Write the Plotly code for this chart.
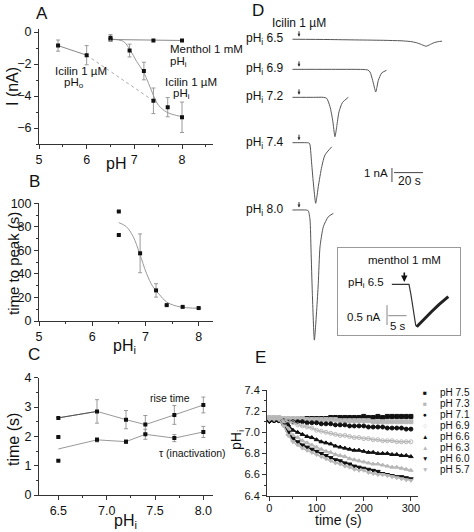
import plotly.graph_objects as go

W, H = 474, 532
def X(px): return px / W
def Y(py): return 1 - py / H

FONT = "Liberation Sans, Arial, sans-serif"
BLACK = "#111111"
GRAY = "#999999"
LIGHT = "#b8b8b8"
TRACE = "#555555"

# ---------------- Panel A data ----------------
A_pHo_x = [5.4, 6.0, 7.4]
A_pHo_y = [-0.85, -1.45, -4.3]
A_pHo_err = [0.35, 0.6, 0.8]
A_pHi_x = [6.5, 6.9, 7.2, 7.4, 7.7, 8.0]
A_pHi_y = [-0.36, -1.16, -2.44, -4.3, -4.7, -5.33]
A_pHi_err = [0.2, 0.4, 0.55, 0.8, 0.6, 0.95]
A_fit_x = [6.49, 6.77, 6.91, 7.05, 7.19, 7.30, 7.39, 7.51, 7.68, 7.89, 8.0]
A_fit_y = [-0.44, -0.59, -1.12, -1.85, -2.48, -3.22, -3.89, -4.59, -5.01, -5.22, -5.28]
A_men_x = [6.5, 7.4, 8.0]
A_men_y = [-0.47, -0.53, -0.53]

# ---------------- Panel B data ----------------
B_x = [6.5, 6.5, 6.9, 7.2, 7.4, 7.7, 8.0]
B_y = [93, 73, 57.5, 26, 13.5, 12, 11]
B_err = [0, 0, 16.5, 5.7, 0, 0, 0]
B_fit_x = [6.5, 6.64, 6.77, 6.89, 7.02, 7.14, 7.27, 7.39, 7.58, 7.77, 8.05]
B_fit_y = [83.6, 80.2, 71.7, 57.5, 40.5, 29.2, 22.1, 16.4, 12.7, 11.3, 10.8]

# ---------------- Panel C data ----------------
C_x = [6.5, 6.9, 7.2, 7.4, 7.7, 8.0]
C_rise = [2.63, 2.85, 2.57, 2.4, 2.73, 3.07]
C_rise_err = [0, 0.4, 0.31, 0.31, 0.32, 0.27]
C_tau_pts_x = [6.5, 6.5, 6.9, 7.2, 7.4, 7.7, 8.0]
C_tau_pts_y = [1.98, 1.17, 1.88, 1.82, 2.07, 1.94, 2.15]
C_tau_err = [0, 0, 0.07, 0.06, 0.17, 0.12, 0.19]
C_tau_line = [1.57, 1.88, 1.82, 2.07, 1.94, 2.15]

# ---------------- Panel D data (time s from icilin application, current nA) ----------------
D_labels = ["6.5", "6.9", "7.2", "7.4", "8.0"]
D_t = [
    [-4.5, 20, 40, 60, 72, 78, 82, 85, 87.6, 90, 93, 96, 98.6],
    [-4.5, 20, 44, 47.5, 49, 50.8, 52.2, 52.9, 53.7, 54.7, 57, 60.3],
    [-4.5, 10, 17, 19.1, 21.4, 23.2, 24.8, 26, 27.6, 29.9, 34],
    [-4.5, 5, 7.0, 7.6, 8.7, 9.9, 11.5, 12.3, 13.3, 15.7, 17.9, 22.6],
    [-4.5, 5, 6.4, 7.6, 8.3, 9.2, 10.6, 12.2, 13.3, 14.5, 16.8, 20.2, 23.7],
]
D_I = [
    [0, -0.02, -0.05, -0.08, -0.12, -0.18, -0.28, -0.4, -0.5, -0.4, -0.25, -0.17, -0.14],
    [0, 0, -0.01, -0.05, -0.19, -0.79, -1.38, -1.62, -1.3, -0.79, -0.26, -0.07],
    [0, 0, 0, -0.07, -0.67, -1.62, -2.81, -2.1, -1.03, -0.38, 0],
    [0, 0, -0.02, -0.16, -1.45, -2.88, -4.33, -3.9, -3.14, -1.71, -0.88, -0.29],
    [0, 0, -0.05, -0.71, -2.86, -5.95, -9.29, -7.14, -5.24, -2.62, -1.19, -0.48, -0.24],
]
# inset: menthol 1 mM at pHi 6.5
IN_t = [-3.4, 1.28, 1.83, 2.45, 3.1, 3.38, 5.0, 7.47, 9.5, 12.0]
IN_I = [0, 0, -0.27, -0.68, -1.02, -1.06, -0.9, -0.68, -0.5, -0.31]

# layout constants for panel D (stacking offsets in nA, scale bars)
D_OFFSETS = [-0.66, -2.81, -4.81, -8.05, -12.86]
SB_T = 64.1
SB_Y = -9.857
SB_NA = 1.0
SB_S = 20.0
IN_SB_T = -4.71
IN_SB_Y = -0.52
IN_SB_NA = 0.5
IN_SB_S = 5.0

# ---------------- Panel E data ----------------
E_t = list(range(0, 301, 10))
E_labels = ["pH 7.5", "pH 7.3", "pH 7.1", "pH 6.9", "pH 6.6", "pH 6.3", "pH 6.0", "pH 5.7"]
E_vals = [
    [7.12, 7.12, 7.13, 7.12, 7.12, 7.12, 7.12, 7.13, 7.13, 7.13, 7.13, 7.13, 7.13, 7.14, 7.14, 7.14,
     7.14, 7.14, 7.14, 7.14, 7.15, 7.14, 7.14, 7.15, 7.14, 7.15, 7.15, 7.15, 7.15, 7.15, 7.15],
    [7.14, 7.14, 7.14, 7.13, 7.13, 7.13, 7.13, 7.13, 7.12, 7.12, 7.12, 7.12, 7.12, 7.12, 7.12, 7.11,
     7.11, 7.11, 7.11, 7.11, 7.11, 7.11, 7.10, 7.10, 7.10, 7.10, 7.10, 7.10, 7.10, 7.10, 7.10],
    [7.11, 7.11, 7.11, 7.11, 7.10, 7.10, 7.10, 7.10, 7.09, 7.09, 7.09, 7.08, 7.08, 7.08, 7.07, 7.07,
     7.07, 7.06, 7.06, 7.06, 7.06, 7.05, 7.05, 7.05, 7.05, 7.04, 7.04, 7.04, 7.04, 7.03, 7.03],
    [7.13, 7.13, 7.13, 7.12, 7.10, 7.09, 7.07, 7.06, 7.05, 7.04, 7.02, 7.01, 7.00, 6.99, 6.98, 6.97,
     6.97, 6.96, 6.95, 6.95, 6.94, 6.94, 6.93, 6.93, 6.92, 6.92, 6.92, 6.91, 6.91, 6.91, 6.91],
    [7.12, 7.12, 7.12, 7.10, 7.07, 7.02, 7.00, 6.98, 6.96, 6.95, 6.93, 6.91, 6.90, 6.89, 6.87, 6.86,
     6.85, 6.84, 6.83, 6.83, 6.82, 6.81, 6.81, 6.80, 6.80, 6.80, 6.79, 6.79, 6.78, 6.78, 6.77],
    [7.14, 7.14, 7.13, 7.10, 7.03, 6.97, 6.95, 6.92, 6.90, 6.88, 6.86, 6.84, 6.82, 6.81, 6.79, 6.78,
     6.77, 6.75, 6.74, 6.73, 6.72, 6.71, 6.70, 6.70, 6.69, 6.68, 6.67, 6.67, 6.66, 6.65, 6.64],
    [7.10, 7.11, 7.11, 7.07, 7.00, 6.94, 6.91, 6.88, 6.86, 6.84, 6.82, 6.80, 6.78, 6.76, 6.74, 6.73,
     6.71, 6.70, 6.68, 6.67, 6.66, 6.65, 6.64, 6.63, 6.61, 6.60, 6.59, 6.58, 6.58, 6.57, 6.56],
    [7.12, 7.12, 7.12, 7.06, 6.97, 6.91, 6.88, 6.85, 6.83, 6.81, 6.79, 6.77, 6.75, 6.73, 6.71, 6.70,
     6.68, 6.67, 6.65, 6.64, 6.64, 6.62, 6.61, 6.60, 6.60, 6.59, 6.58, 6.57, 6.56, 6.55, 6.545],
]
E_styles = [
    ("square", BLACK, "■"), ("square", LIGHT, "■"), ("circle", BLACK, "●"), ("circle-open", LIGHT, "○"),
    ("triangle-up", BLACK, "▲"), ("triangle-up", LIGHT, "▲"), ("triangle-down", BLACK, "▼"),
    ("triangle-down", LIGHT, "▼"),
]

fig = go.Figure()

def err(arr, color=GRAY):
    return dict(type="data", array=arr, visible=True, color=color, thickness=1, width=2)

mk = dict(symbol="square", size=4, color=BLACK)

# ---- A ----
fig.add_trace(go.Scatter(x=A_pHo_x[:2], y=A_pHo_y[:2], mode="lines", line=dict(color="#888", width=1),
                         xaxis="x", yaxis="y", showlegend=False))
fig.add_trace(go.Scatter(x=A_pHo_x[1:], y=A_pHo_y[1:], mode="lines", line=dict(color="#aaa", width=1, dash="dot"),
                         xaxis="x", yaxis="y", showlegend=False))
fig.add_trace(go.Scatter(x=A_fit_x, y=A_fit_y, mode="lines", line=dict(color=GRAY, width=1, shape="spline"),
                         xaxis="x", yaxis="y", showlegend=False))
fig.add_trace(go.Scatter(x=A_men_x, y=A_men_y, mode="lines+markers", line=dict(color="#888", width=1),
                         marker=mk, xaxis="x", yaxis="y", showlegend=False))
fig.add_trace(go.Scatter(x=A_pHo_x[:2], y=A_pHo_y[:2], mode="markers", marker=mk,
                         error_y=err(A_pHo_err[:2]), xaxis="x", yaxis="y", showlegend=False))
fig.add_trace(go.Scatter(x=A_pHi_x, y=A_pHi_y, mode="markers", marker=mk,
                         error_y=err(A_pHi_err), xaxis="x", yaxis="y", showlegend=False))

# ---- B ----
fig.add_trace(go.Scatter(x=B_fit_x, y=B_fit_y, mode="lines", line=dict(color=GRAY, width=1, shape="spline"),
                         xaxis="x2", yaxis="y2", showlegend=False))
fig.add_trace(go.Scatter(x=B_x, y=B_y, mode="markers", marker=mk, error_y=err(B_err),
                         xaxis="x2", yaxis="y2", showlegend=False))

# ---- C ----
fig.add_trace(go.Scatter(x=C_x, y=C_rise, mode="lines", line=dict(color=GRAY, width=1),
                         xaxis="x3", yaxis="y3", showlegend=False))
fig.add_trace(go.Scatter(x=C_x[:2], y=C_rise[:2], mode="lines", line=dict(color="#555", width=1),
                         xaxis="x3", yaxis="y3", showlegend=False))
fig.add_trace(go.Scatter(x=C_x, y=C_tau_line, mode="lines", line=dict(color=GRAY, width=1),
                         xaxis="x3", yaxis="y3", showlegend=False))
fig.add_trace(go.Scatter(x=C_x, y=C_rise, mode="markers", marker=mk, error_y=err(C_rise_err),
                         xaxis="x3", yaxis="y3", showlegend=False))
fig.add_trace(go.Scatter(x=C_tau_pts_x, y=C_tau_pts_y, mode="markers", marker=mk, error_y=err(C_tau_err),
                         xaxis="x3", yaxis="y3", showlegend=False))

# ---- D ----
for t, cur, off in zip(D_t, D_I, D_OFFSETS):
    fig.add_trace(go.Scatter(x=t, y=[off + c for c in cur], mode="lines",
                             line=dict(color=TRACE, width=1, shape="spline", smoothing=0.6),
                             xaxis="x4", yaxis="y4", showlegend=False))
fig.add_trace(go.Scatter(x=[SB_T, SB_T], y=[SB_Y, SB_Y - SB_NA], mode="lines", line=dict(color="#444", width=1),
                         xaxis="x4", yaxis="y4", showlegend=False))
fig.add_trace(go.Scatter(x=[SB_T + 1.4, SB_T + 1.4 + SB_S], y=[SB_Y - 0.33, SB_Y - 0.33], mode="lines",
                         line=dict(color="#444", width=1), xaxis="x4", yaxis="y4", showlegend=False))
# inset
fig.add_trace(go.Scatter(x=IN_t[:6], y=IN_I[:6], mode="lines", line=dict(color="#333", width=1.2),
                         xaxis="x5", yaxis="y5", showlegend=False))
fig.add_trace(go.Scatter(x=IN_t[5:], y=IN_I[5:], mode="lines", line=dict(color="#222", width=3),
                         xaxis="x5", yaxis="y5", showlegend=False))
fig.add_trace(go.Scatter(x=[IN_SB_T, IN_SB_T], y=[IN_SB_Y, IN_SB_Y - IN_SB_NA], mode="lines",
                         line=dict(color="#888", width=1), xaxis="x5", yaxis="y5", showlegend=False))
fig.add_trace(go.Scatter(x=[IN_SB_T + 0.35, IN_SB_T + 0.35 + IN_SB_S], y=[-0.785, -0.785], mode="lines",
                         line=dict(color="#888", width=1), xaxis="x5", yaxis="y5", showlegend=False))

# ---- E ----
for vals, (sym, col, _), lab in zip(E_vals, E_styles, E_labels):
    fig.add_trace(go.Scatter(x=E_t, y=vals, mode="lines+markers", name=lab,
                             line=dict(color=col, width=1.5),
                             marker=dict(symbol=sym, size=4, color=col, line=dict(color=col, width=1)),
                             xaxis="x6", yaxis="y6", showlegend=False))

def axis(dom, rng, dtick, mdtick, anchor, size=12.5, fmt=None, tick0=None, standoff=None):
    d = dict(domain=dom, range=rng, dtick=dtick, anchor=anchor, showgrid=False, zeroline=False,
             automargin=False,
             showline=True, linecolor="#333", linewidth=1, ticks="outside", ticklen=4, tickcolor="#333",
             tickfont=dict(size=size, color=BLACK, family=FONT),
             minor=dict(ticks="outside", ticklen=2, dtick=mdtick, tickcolor="#333", showgrid=False))
    if fmt:
        d["tickformat"] = fmt
    if tick0 is not None:
        d["tick0"] = tick0
    if standoff is not None:
        d["ticklabelstandoff"] = standoff
    return d

hidden = dict(visible=False, showgrid=False, zeroline=False, automargin=False)

fig.update_layout(
    template="none",
    width=W, height=H, margin=dict(l=0, r=0, t=0, b=0, pad=0), autosize=False,
    paper_bgcolor="white", plot_bgcolor="white", font=dict(family=FONT, color=BLACK),
    showlegend=False,
    xaxis=axis([X(39), X(213)], [5, 8.65], 1, 0.5, "y"),
    yaxis=axis([Y(144), Y(28.8)], [-7, 0.2], 2, 1, "x"),
    xaxis2=axis([X(39), X(213)], [5, 8.27], 1, 0.5, "y2"),
    yaxis2=axis([Y(321), Y(203.3)], [0, 100], 20, 10, "x2"),
    xaxis3=axis([X(39), X(213)], [6.3, 8.1], 0.5, 0.25, "y3", fmt=".1f", tick0=6.5),
    yaxis3=axis([Y(495), Y(377.7)], [0, 4], 1, 0.5, "x3"),
    xaxis4=dict(hidden, domain=[X(290), X(470)], range=[-6.207, 117.93], anchor="y4"),
    yaxis4=dict(hidden, domain=[Y(350), Y(30)], range=[-22.857, 0], anchor="x4"),
    xaxis5=dict(domain=[X(338), X(460)], range=[-18.07, 15.18], anchor="y5", showline=True, mirror=True,
                automargin=False,
                linecolor="#999", linewidth=1, ticks="", showticklabels=False, showgrid=False, zeroline=False),
    yaxis5=dict(domain=[Y(335), Y(248)], range=[-1.2675, 0.9075], anchor="x5", showline=True, mirror=True,
                automargin=False,
                linecolor="#999", linewidth=1, ticks="", showticklabels=False, showgrid=False, zeroline=False),
    xaxis6=axis([X(267), X(418)], [-5, 315], 100, 50, "y6", size=11, standoff=-2),
    yaxis6=axis([Y(495.7), Y(390)], [6.4, 7.4], 0.2, 0.1, "x6", size=11, fmt=".1f"),
)

ann = []
def txt(text, px, py, size=12, xa="center", ya="middle", angle=0, color=BLACK, pad=1):
    ann.append(dict(text=text, x=X(px), y=Y(py), xref="paper", yref="paper", showarrow=False,
                    xanchor=xa, yanchor=ya, textangle=angle, borderpad=pad,
                    font=dict(size=size, color=color, family=FONT)))

# panel letters
txt("A", 42, 14, 17)
txt("B", 34, 182, 17)
txt("C", 34, 354, 17)
txt("D", 258, 11, 17)
txt("E", 260, 357, 17)

# A texts
txt("I (nA)", 12, 87, 16, angle=-90)
txt("pH", 116, 163, 16)
txt("Menthol 1 mM", 168, 49, 11.5, xa="left")
txt("pH<sub>i</sub>", 168, 62, 11.5, xa="left")
txt("Icilin 1 µM", 53, 71, 11.5, xa="left")
txt("pH<sub>o</sub>", 62, 83, 11.5, xa="left")
txt("Icilin 1 µM", 163, 82, 11.5, xa="left")
txt("pH<sub>i</sub>", 171, 94, 11.5, xa="left")

# B texts
txt("time to peak (s)", 13, 264, 15, angle=-90)
txt("pH<sub>i</sub>", 124, 346, 16)

# C texts
txt("time (s)", 13, 440, 16, angle=-90)
txt("pH<sub>i</sub>", 126, 521, 16)
txt("rise time", 170, 398, 10.5)
txt("τ (inactivation)", 192, 453, 10.5)

# D texts
txt("Icilin 1 µM", 299, 23, 12)
for lab, off in zip(D_labels, D_OFFSETS):
    ann.append(dict(text="pH<sub>i</sub> " + lab + " ", x=X(289), y=off, xref="paper", yref="y4",
                    showarrow=False, xanchor="right", yanchor="middle", font=dict(size=12, color=BLACK, family=FONT)))
    ann.append(dict(text="", x=0, y=off + 0.18, xref="x4", yref="y4", showarrow=True, ax=0, ay=-7,
                    arrowhead=2, arrowsize=0.6, arrowwidth=1, arrowcolor="#333"))
txt("1 nA", 390, 173, 11.5, xa="right")
txt("20 s", 409, 181, 12)
# inset texts
txt("menthol 1 mM", 404, 260, 11.5)
ann.append(dict(text="", x=0, y=0.06, xref="x5", yref="y5", showarrow=True, ax=0, ay=-11,
                arrowhead=2, arrowsize=0.8, arrowwidth=1.6, arrowcolor="#111"))
txt("pH<sub>i</sub> 6.5", 386, 283, 11.5, xa="right")
txt("0.5 nA", 383, 317, 11.5, xa="right")
txt("5 s", 398, 326, 11.5)

# E texts
txt("pH<sub>i</sub>", 237, 440, 14, angle=-90)
txt("time (s)", 338, 520, 14)
for i, ((sym, col, glyph), lab) in enumerate(zip(E_styles, E_labels)):
    py = 392.5 + 11 * i
    txt(glyph, 425, py, 6.5, color=col, pad=0)
    txt(lab, 439, py, 10, xa="left", pad=0)

fig.update_layout(annotations=ann)
fig.write_html("out.html", config={"displayModeBar": False, "staticPlot": True},
               post_script="document.body.style.margin='0';document.body.style.padding='0';"
                           "document.body.style.overflow='hidden';")
